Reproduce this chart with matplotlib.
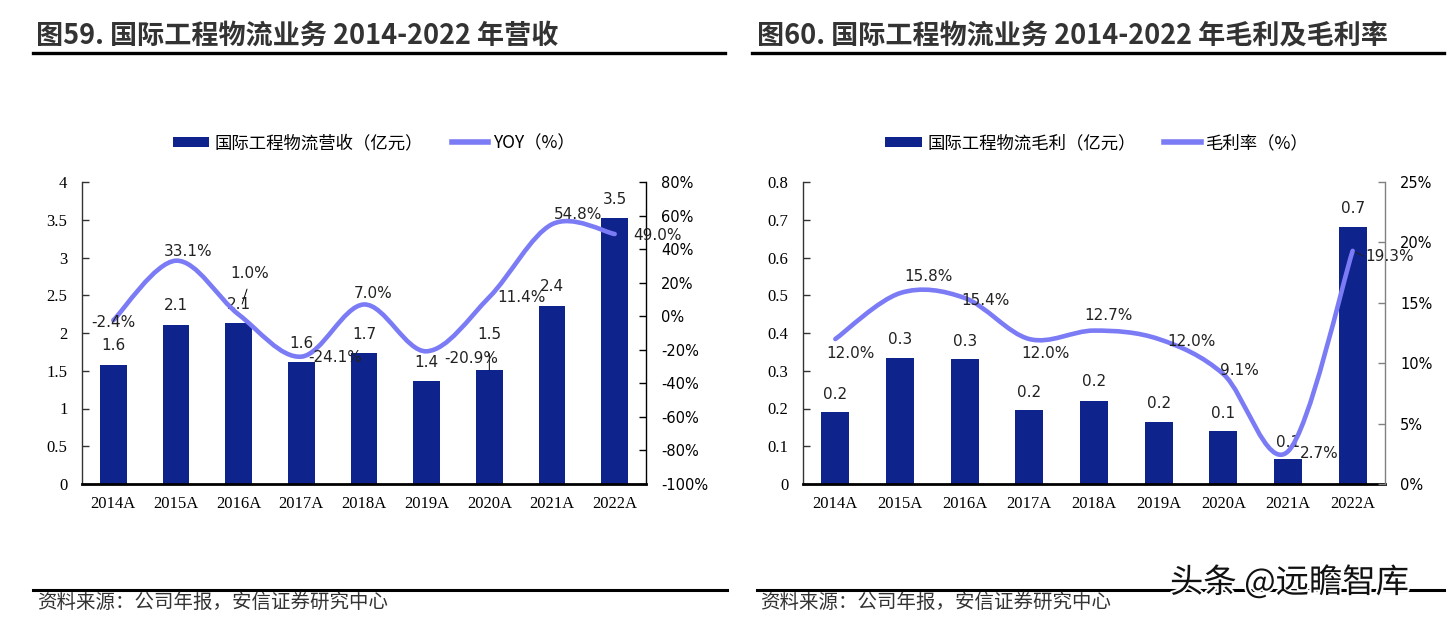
import numpy as np
import matplotlib
matplotlib.use('Agg')
import matplotlib.pyplot as plt
from matplotlib.path import Path
from matplotlib.patches import PathPatch, Patch
from matplotlib.lines import Line2D
import matplotlib.patheffects as pe

# ---------------- data ----------------
years = ['2014A', '2015A', '2016A', '2017A', '2018A', '2019A', '2020A', '2021A', '2022A']
revenue = [1.58, 2.11, 2.13, 1.61, 1.73, 1.36, 1.51, 2.36, 3.52]          # 亿元
revenue_yoy = [-2.4, 33.1, 1.0, -24.1, 7.0, -20.9, 11.4, 54.8, 49.0]       # %
gross_profit = [0.19, 0.335, 0.33, 0.195, 0.22, 0.165, 0.14, 0.065, 0.68]  # 亿元
gross_margin = [12.0, 15.8, 15.4, 12.0, 12.7, 12.0, 9.1, 2.7, 19.3]        # %

title_left = '图59. 国际工程物流业务 2014-2022 年营收'
title_right = '图60. 国际工程物流业务 2014-2022 年毛利及毛利率'
legend_left = ['国际工程物流营收（亿元）', 'YOY（%）']
legend_right = ['国际工程物流毛利（亿元）', '毛利率（%）']
source_text = '资料来源：公司年报，安信证券研究中心'
watermark = '头条 @远瞻智库'

# label offsets (pixels) – styling only
yoy_dx = [0, 12, 11, 34, 9, 45, 32, 26, 43]
yoy_dy = [-2, 9, 41, -1, 11, -7, 0, 10, -1]
rev_dy = [19, 19, 19, 19, 19, 19, 35, 19, 19]
gm_dx = [15, 29, 21, 16, 15, 33, 16, 31, 37]
gm_dy = [-14, 17, -3, -14, 15, -2, 4, -2, -6]
gp_dy = [18, 18, 18, 18, 19, 18, 18, 17, 19]

BAR = '#0F238C'
LINE = '#7B7BF5'
CJK = ['Noto Sans CJK SC', 'DejaVu Sans']
SERIF = ['Liberation Serif', 'DejaVu Serif']
SANS = ['DejaVu Sans']

W, H = 1456, 626
fig = plt.figure(figsize=(W / 100, H / 100), dpi=100)


def frac_box(x0, x1, ytop, ybot):
    return [x0 / W, 1 - ybot / H, (x1 - x0) / W, (ybot - ytop) / H]


def smooth_path(xs, ys):
    pts = np.column_stack([xs, ys]).astype(float)
    n = len(pts)
    verts = [pts[0]]
    codes = [Path.MOVETO]
    for i in range(n - 1):
        p0 = pts[max(i - 1, 0)]
        p1 = pts[i]
        p2 = pts[i + 1]
        p3 = pts[min(i + 2, n - 1)]
        c1 = p1 + (p2 - p0) / 6.0
        c2 = p2 - (p3 - p1) / 6.0
        verts += [c1, c2, p2]
        codes += [Path.CURVE4] * 3
    return Path(verts, codes)


def build(box, bars, line, ylim, yticks, y2lim, y2ticks, y2fmt, right_spine_color,
          bar_dy, line_dx, line_dy, leg_labels, leg_cx, title, tx, line_x0, line_x1):
    ax = fig.add_axes(box)
    x = np.arange(len(years))
    ax.bar(x, bars, width=0.43, color=BAR, zorder=2)
    ax.set_xlim(-0.5, len(years) - 0.5)
    ax.set_ylim(*ylim)
    ax.set_yticks(yticks)
    ax.set_yticklabels([f'{v:g}' for v in yticks], fontfamily=SERIF, fontsize=12)
    ax.set_xticks(x)
    ax.set_xticklabels(years, fontfamily=SERIF, fontsize=12)
    ax.tick_params(axis='x', length=0, pad=9)
    ax.tick_params(axis='y', direction='in', length=5, pad=10.5, width=1, color='#333333')
    ax.spines['top'].set_visible(False)
    ax.spines['right'].set_visible(False)
    ax.spines['left'].set_color('#333333')
    ax.spines['left'].set_linewidth(1)
    ax.spines['bottom'].set_color('black')
    ax.spines['bottom'].set_linewidth(2)
    ax.spines['bottom'].set_zorder(5)

    ax2 = ax.twinx()
    ax2.set_ylim(*y2lim)
    ax2.set_yticks(y2ticks)
    ax2.set_yticklabels([y2fmt(v) for v in y2ticks], fontfamily=SANS, fontsize=10.5)
    ax2.tick_params(axis='y', direction='in', length=5, pad=11, width=1, color=right_spine_color)
    for s in ['top', 'left', 'bottom']:
        ax2.spines[s].set_visible(False)
    ax2.spines['right'].set_color(right_spine_color)
    ax2.spines['right'].set_linewidth(1)

    ax2.add_patch(PathPatch(smooth_path(x, line), fill=False, edgecolor=LINE,
                            lw=3.3, capstyle='round', joinstyle='round', zorder=3))

    # bar labels
    for i, v in enumerate(bars):
        kw = {}
        if bar_dy[i] > 25:
            kw = dict(arrowprops=dict(arrowstyle='-', color='black', lw=0.7,
                                      shrinkA=6, shrinkB=0, relpos=(0.5, 0.0)))
        ax.annotate(f'{v:.1f}', xy=(i, v), xytext=(0, bar_dy[i]), textcoords='offset pixels',
                    ha='center', va='center', fontfamily=SANS, fontsize=11,
                    color='#222222', zorder=6, **kw)
    # line labels
    for i, v in enumerate(line):
        kw = {}
        if abs(line_dy[i]) > 30:
            kw = dict(arrowprops=dict(arrowstyle='-', color='black', lw=0.7,
                                      shrinkA=4, shrinkB=8, relpos=(0.5, 0.0)))
        ax2.annotate(f'{v:.1f}%', xy=(i, v), xytext=(line_dx[i], line_dy[i]),
                     textcoords='offset pixels', ha='center', va='center',
                     fontfamily=SANS, fontsize=11, color='#222222', zorder=6, **kw)

    handles = [Patch(facecolor=BAR, edgecolor='none'),
               Line2D([0], [0], color=LINE, lw=4)]
    fig.legend(handles, leg_labels, loc='center', bbox_to_anchor=(leg_cx / W, 1 - 143 / H),
               ncol=2, frameon=False, handlelength=2.1, handleheight=0.55,
               handletextpad=0.3, columnspacing=1.65,
               prop={'family': CJK, 'size': 12.5})

    fig.text(tx / W, 1 - 36 / H, title, ha='left', va='center', fontfamily=CJK,
             fontsize=19.5, fontweight='bold', color='#333333')
    fig.add_artist(Line2D([line_x0 / W, line_x1 / W], [1 - 53 / H, 1 - 53 / H],
                          color='black', lw=2.4, transform=fig.transFigure))
    return ax, ax2


axL, axL2 = build(frac_box(82, 646, 182, 484), revenue, revenue_yoy,
                  (0, 4), np.arange(0, 4.01, 0.5), (-100, 80), np.arange(-100, 81, 20),
                  lambda v: f'{v:.0f}%', 'black',
                  rev_dy, yoy_dx, yoy_dy, legend_left, 374, title_left, 36, 33, 725)

axR, axR2 = build(frac_box(803, 1385, 182, 484), gross_profit, gross_margin,
                  (0, 0.8), np.round(np.arange(0, 0.81, 0.1), 1), (0, 25), np.arange(0, 26, 5),
                  lambda v: f'{v:.0f}%', '#808080',
                  gp_dy, gm_dx, gm_dy, legend_right, 1097, title_right, 757, 752, 1444)

# leader for 19.3% label (short dash)
axR2.annotate('', xy=(8, gross_margin[8]), xytext=(8.17, gross_margin[8] - 0.45),
              arrowprops=dict(arrowstyle='-', color='#222222', lw=0.7, shrinkA=0, shrinkB=2))

# footers
for x0, x1 in [(33, 727), (757, 1444)]:
    fig.add_artist(Line2D([x0 / W, x1 / W], [1 - 590 / H, 1 - 590 / H],
                          color='black', lw=2.2, transform=fig.transFigure))
fig.text(37 / W, 1 - 602 / H, source_text, ha='left', va='center', fontfamily=CJK,
         fontsize=14, style='italic', color='#333333')
fig.text(760 / W, 1 - 602 / H, source_text, ha='left', va='center', fontfamily=CJK,
         fontsize=14, style='italic', color='#333333')
fig.text(1170 / W, 1 - 583 / H, watermark, ha='left', va='center', fontfamily=CJK,
         fontsize=24, color='#111111',
         path_effects=[pe.withStroke(linewidth=3, foreground='white')])

fig.savefig('out.png', dpi=100, facecolor='white')
